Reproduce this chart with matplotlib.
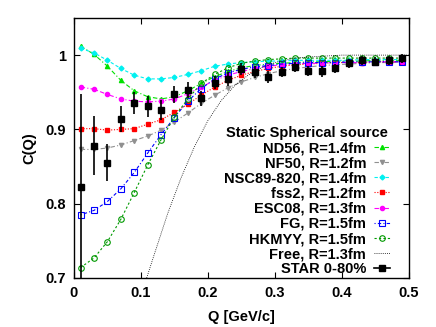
import numpy as np
import matplotlib.pyplot as plt

plt.rcParams['font.family'] = ['Liberation Sans', 'DejaVu Sans']
plt.rcParams['font.weight'] = 'bold'
plt.rcParams['font.size'] = 10.5

# model curves, sampled every 0.02 GeV/c
q_model = [0.01, 0.03, 0.05, 0.07, 0.09, 0.11, 0.13, 0.15, 0.17, 0.19,
           0.21, 0.23, 0.25, 0.27, 0.29, 0.31, 0.33, 0.35, 0.37, 0.39,
           0.41, 0.43, 0.45, 0.47, 0.49]

nd56 = [1.012, 1.001, 0.985, 0.966, 0.952, 0.944, 0.941, 0.944, 0.952, 0.962,
        0.971, 0.978, 0.983, 0.986, 0.988, 0.989, 0.990, 0.991, 0.991, 0.992,
        0.992, 0.992, 0.993, 0.993, 0.993]
nf50 = [0.873, 0.873, 0.875, 0.879, 0.885, 0.891, 0.899, 0.910, 0.922, 0.935,
        0.946, 0.956, 0.964, 0.970, 0.975, 0.979, 0.982, 0.984, 0.986, 0.987,
        0.988, 0.989, 0.990, 0.990, 0.991]
nsc89 = [1.009, 1.003, 0.993, 0.982, 0.973, 0.968, 0.968, 0.970, 0.974, 0.979,
         0.985, 0.988, 0.990, 0.991, 0.992, 0.992, 0.993, 0.993, 0.993, 0.993,
         0.993, 0.994, 0.994, 0.994, 0.994]
fss2 = [0.901, 0.901, 0.899, 0.900, 0.901, 0.907, 0.913, 0.923, 0.934, 0.946,
        0.957, 0.966, 0.973, 0.978, 0.982, 0.985, 0.987, 0.988, 0.989, 0.990,
        0.990, 0.990, 0.991, 0.991, 0.991]
esc08 = [0.957, 0.954, 0.947, 0.941, 0.938, 0.937, 0.938, 0.941, 0.948, 0.957,
         0.966, 0.973, 0.978, 0.982, 0.985, 0.987, 0.988, 0.989, 0.989, 0.990,
         0.990, 0.990, 0.991, 0.991, 0.991]
fg = [0.785, 0.791, 0.803, 0.820, 0.842, 0.868, 0.893, 0.916, 0.938, 0.955,
      0.968, 0.976, 0.981, 0.984, 0.986, 0.988, 0.989, 0.990, 0.990, 0.990,
      0.991, 0.991, 0.991, 0.991, 0.991]
hkmyy = [0.714, 0.727, 0.749, 0.779, 0.815, 0.852, 0.886, 0.917, 0.941, 0.962,
         0.974, 0.983, 0.989, 0.992, 0.994, 0.995, 0.996, 0.996, 0.996, 0.996,
         0.996, 0.996, 0.996, 0.996, 0.996]

# free case, dotted line
q_free = [0.10, 0.12, 0.14, 0.16, 0.18, 0.20, 0.22, 0.24, 0.26, 0.28,
          0.30, 0.33, 0.36, 0.40, 0.45, 0.50]
c_free = [0.676, 0.732, 0.787, 0.835, 0.877, 0.912, 0.939, 0.959, 0.973, 0.983,
          0.990, 0.996, 0.998, 1.000, 1.000, 1.000]

# STAR 0-80% data
q_star = q_model
c_star = [0.823, 0.878, 0.855, 0.914, 0.936, 0.931, 0.926, 0.947, 0.953, 0.942,
          0.963, 0.968, 0.981, 0.977, 0.971, 0.977, 0.984, 0.979, 0.978, 0.982,
          0.989, 0.993, 0.991, 0.993, 0.996]
e_star = [0.124, 0.040, 0.025, 0.018, 0.015, 0.014, 0.013, 0.012, 0.011, 0.010,
          0.009, 0.009, 0.008, 0.008, 0.008, 0.007, 0.007, 0.007, 0.007, 0.006,
          0.006, 0.006, 0.006, 0.006, 0.006]

fig = plt.figure(figsize=(4.36, 3.27), dpi=100)
ax = fig.add_axes([0.1697, 0.150, 0.768, 0.795])

lw = 0.8
ms = 3
ax.plot(q_model, nd56, color='#00e000', ls=(0, (4, 2, 1, 2)), lw=lw,
        marker='^', ms=ms, label='ND56, R=1.4fm')
ax.plot(q_model, nf50, color='#909090', ls=(0, (4, 2, 1, 2)), lw=lw,
        marker='v', ms=ms, label='NF50, R=1.2fm')
ax.plot(q_model, nsc89, color='#00f0f0', ls=(0, (3, 2)), lw=lw,
        marker='D', ms=ms - 0.5, label='NSC89-820, R=1.4fm')
ax.plot(q_model, fss2, color='#ff0000', ls=(0, (1, 1.5)), lw=lw,
        marker='s', ms=ms, label='fss2, R=1.2fm')
ax.plot(q_model, esc08, color='#ff00ff', ls=(0, (4, 2, 1, 2)), lw=lw,
        marker='o', ms=ms, label='ESC08, R=1.3fm')
ax.plot(q_model, fg, color='#0000ff', ls=(0, (1, 2, 3, 2)), lw=lw,
        marker='s', ms=ms + 1, mfc='none', mew=0.8, label='FG, R=1.5fm')
ax.plot(q_model, hkmyy, color='#009900', ls=(0, (2, 2)), lw=lw,
        marker='o', ms=ms + 1, mfc='none', mew=0.8, label='HKMYY, R=1.5fm')
ax.plot(q_free, c_free, color='black', ls=(0, (1, 1.5)), lw=0.6,
        label='Free, R=1.3fm')
ax.errorbar(q_star, c_star, yerr=e_star, fmt='s', color='black', ms=5,
            elinewidth=1.2, capsize=0)
# legend entry drawn like gnuplot's: line through the square
ax.plot([], [], color='black', ls='-', lw=1.2, marker='s', ms=5,
        label='STAR 0-80%')

ax.set_xlim(0, 0.5)
ax.set_ylim(0.7, 1.05)
ax.set_xticks([0, 0.1, 0.2, 0.3, 0.4, 0.5])
ax.set_xticklabels(['0', '0.1', '0.2', '0.3', '0.4', '0.5'])
ax.set_yticks([0.7, 0.8, 0.9, 1.0])
ax.set_yticklabels(['0.7', '0.8', '0.9', '1'])
ax.tick_params(direction='in', top=True, right=True, length=4, width=0.8, pad=6)
for s in ax.spines.values():
    s.set_linewidth(1.0)

ax.set_xlabel('Q [GeV/c]', fontweight='bold', labelpad=7)
ax.set_ylabel('C(Q)', fontweight='bold', labelpad=6)

leg = ax.legend(loc='lower right', bbox_to_anchor=(0.955, -0.008),
                frameon=False, markerfirst=False,
                title='Static Spherical source', handlelength=1.1,
                labelspacing=0.08, borderaxespad=0.0, borderpad=0.25,
                handletextpad=0.55,
                title_fontproperties={'weight': 'bold', 'size': 10.5})

fig.savefig('out.png', dpi=100)
